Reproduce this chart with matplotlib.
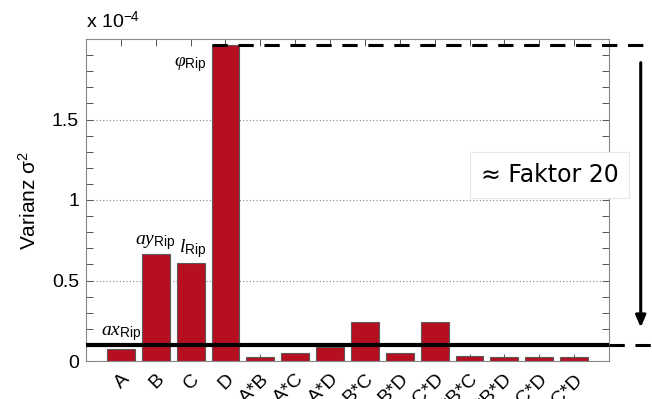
import matplotlib
matplotlib.use("Agg")
import matplotlib.pyplot as plt
from matplotlib.ticker import MultipleLocator, FuncFormatter

plt.rcParams["font.family"] = ["Liberation Sans", "DejaVu Sans"]
plt.rcParams["mathtext.fontset"] = "custom"
plt.rcParams["mathtext.rm"] = "Liberation Sans"
plt.rcParams["mathtext.it"] = "Liberation Serif:italic"
plt.rcParams["mathtext.bf"] = "Liberation Sans:bold"

# Effects of the factorial design and their variance (in units of 1e-4)
effects = ["A", "B", "C", "D", "A*B", "A*C", "A*D", "B*C", "B*D", "C*D",
           "A*B*C", "A*B*D", "A*C*D", "B*C*D"]
variance_e4 = [0.075, 0.663, 0.607, 1.963, 0.023, 0.052, 0.089, 0.244,
               0.052, 0.240, 0.031, 0.023, 0.023, 0.023]
y_ticks = [0, 0.5, 1, 1.5]
factor = 20
param_labels = {0: r"$ax_{\mathrm{Rip}}$", 1: r"$ay_{\mathrm{Rip}}$",
                2: r"$l_{\mathrm{Rip}}$", 3: r"$\varphi_{\mathrm{Rip}}$"}

fig = plt.figure(figsize=(6.52, 3.99), dpi=100)
ax = fig.add_axes([86 / 652, 38 / 399, 523 / 652, 322 / 399])

pos = list(range(len(effects)))
ax.bar(pos, variance_e4, width=0.8, color="#b50f20", edgecolor="#5a5a5a",
       linewidth=0.8, zorder=2)

ax.set_xlim(-1, 14)
ax.set_ylim(0, 2.0)
ax.set_axisbelow(True)

ax.set_xticks(pos)
ax.set_xticklabels(effects, rotation=45, ha="right", rotation_mode="anchor",
                   fontsize=14)
ax.set_yticks(y_ticks)
ax.yaxis.set_minor_locator(MultipleLocator(0.1))
ax.yaxis.set_major_formatter(FuncFormatter(lambda v, _: f"{v:g}"))
ax.tick_params(axis="both", which="both", direction="in", color="#555555",
               top=True, right=True, length=5, width=0.7, labelsize=14,
               pad=5)
ax.tick_params(axis="x", pad=7)
for s in ax.spines.values():
    s.set_color("#888888")
    s.set_linewidth(0.8)

ax.grid(axis="y", which="major", linestyle=(0, (1, 2)), color="#888888",
        linewidth=0.8)

ax.set_ylabel(r"Varianz σ$^2$", fontsize=15, labelpad=9)
ax.text(0.0, 1.02, r"x 10$^{-4}$", transform=ax.transAxes, fontsize=14,
        ha="left", va="bottom")

# Parameter names above the main effects
ax.text(0, 0.11, param_labels[0], fontsize=14, ha="center", va="bottom")
ax.text(0.97, 0.68, param_labels[1], fontsize=14, ha="center", va="bottom")
ax.text(2.05, 0.63, param_labels[2], fontsize=14, ha="center", va="bottom")
ax.text(2.45, 1.84, param_labels[3], fontsize=14, ha="right", va="center")

# Reference lines: largest effect and largest effect / factor
d_val = variance_e4[3]
low = d_val / factor
ax.plot([-1, 14], [low, low], color="black", linewidth=3.0, zorder=3,
        solid_capstyle="butt")
ax.plot([14, 15.3], [low, low], color="black", linewidth=2.2,
        dashes=(5, 3.5), clip_on=False, zorder=3)
ax.plot([2.6, 15.3], [d_val, d_val], color="black", linewidth=2.2,
        dashes=(5, 3.5), clip_on=False, zorder=3)

ax.annotate("", xy=(14.91, low + 0.11), xytext=(14.91, d_val - 0.11),
            arrowprops=dict(arrowstyle="-|>,head_length=0.7,head_width=0.3",
                            color="black", lw=2.2, shrinkA=0, shrinkB=0),
            annotation_clip=False)

ax.text(12.3, 1.155, "≈ Faktor 20", fontsize=17, ha="center", va="center",
        family="DejaVu Sans",
        bbox=dict(boxstyle="square,pad=0.45", facecolor="white",
                  edgecolor="#e6e6e6", linewidth=0.8), zorder=4)

fig.savefig("out.png", dpi=100)
